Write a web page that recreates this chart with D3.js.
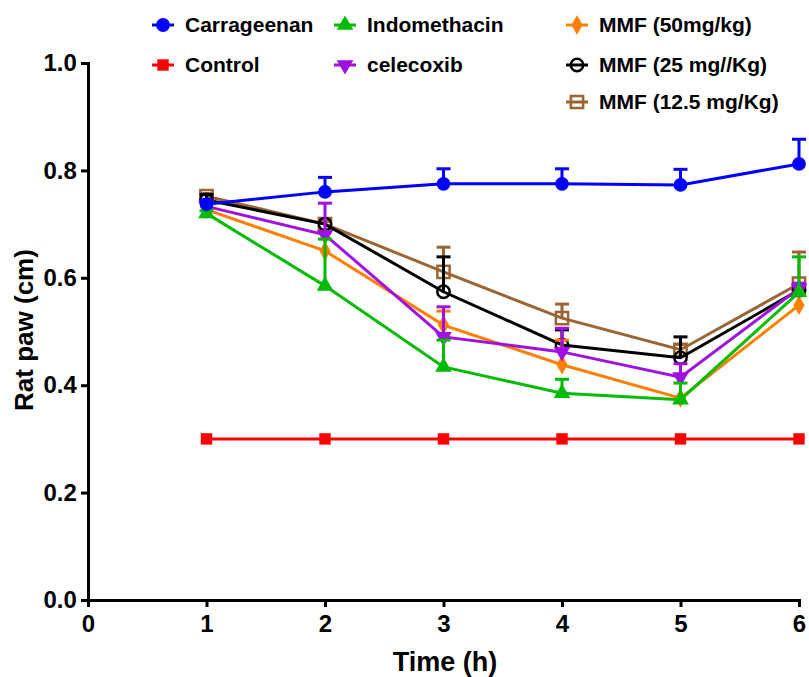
<!DOCTYPE html>
<html>
<head>
<meta charset="utf-8">
<script src="https://cdn.jsdelivr.net/npm/d3@7"></script>
<style>
    body { margin: 0; background: #fff; }
    svg text { font-family: "Liberation Sans", Arial, sans-serif; font-weight: bold; }
</style>
</head>
<body>
<div id="chart"></div>
<script>
// values (mean, upper SEM)
let hours = [1, 2, 3, 4, 5, 6];
let x_ticks = [0, 1, 2, 3, 4, 5, 6];
let y_ticks = [0.0, 0.2, 0.4, 0.6, 0.8, 1.0];

let carrageenan = [0.737, 0.760, 0.775, 0.775, 0.773, 0.812];
let carrageenan_err = [0.008, 0.027, 0.028, 0.028, 0.029, 0.046];
let control = [0.300, 0.300, 0.300, 0.300, 0.300, 0.300];
let control_err = [0, 0, 0, 0, 0, 0];
let indomethacin = [0.720, 0.585, 0.434, 0.385, 0.373, 0.573];
let indomethacin_err = [0.005, 0.087, 0.050, 0.026, 0.031, 0.066];
let celecoxib = [0.733, 0.680, 0.490, 0.462, 0.415, 0.580];
let celecoxib_err = [0.010, 0.059, 0.056, 0.044, 0.025, 0.010];
let mmf50 = [0.727, 0.650, 0.512, 0.438, 0.376, 0.549];
let mmf50_err = [0, 0, 0.026, 0.046, 0, 0];
let mmf25 = [0.745, 0.700, 0.574, 0.475, 0.451, 0.577];
let mmf25_err = [0.010, 0, 0.065, 0.028, 0.039, 0.010];
let mmf125 = [0.752, 0.700, 0.611, 0.525, 0.466, 0.589];
let mmf125_err = [0.005, 0.005, 0.046, 0.026, 0.010, 0.059];

let series = [
    {name: "Carrageenan", values: carrageenan, err: carrageenan_err, color: "#0000ff", shape: "circle", col: 0, row: 0},
    {name: "Control", values: control, err: control_err, color: "#ff0000", shape: "square", col: 0, row: 1},
    {name: "Indomethacin", values: indomethacin, err: indomethacin_err, color: "#00bb00", shape: "triangle", col: 1, row: 0},
    {name: "celecoxib", values: celecoxib, err: celecoxib_err, color: "#a010e0", shape: "triangle-down", col: 1, row: 1},
    {name: "MMF (50mg/kg)", values: mmf50, err: mmf50_err, color: "#ff8000", shape: "diamond", col: 2, row: 0},
    {name: "MMF (25 mg//Kg)", values: mmf25, err: mmf25_err, color: "#000000", shape: "open-circle", col: 2, row: 1},
    {name: "MMF (12.5 mg/Kg)", values: mmf125, err: mmf125_err, color: "#996633", shape: "open-square", col: 2, row: 2}
];

let width = 809, height = 677;
let margin = {left: 88, right: 10, top: 63, bottom: 77};

let svg = d3.select("#chart").append("svg")
    .attr("width", width)
    .attr("height", height);

let x = d3.scaleLinear().domain([0, 6]).range([margin.left, width - margin.right]);
let y = d3.scaleLinear().domain([0, 1]).range([height - margin.bottom, margin.top]);

function symbol_path(shape) {
    if (shape == "circle") return d3.symbol(d3.symbolCircle, 150)();
    if (shape == "square") return d3.symbol(d3.symbolSquare, 130)();
    if (shape == "triangle" || shape == "triangle-down") return d3.symbol(d3.symbolTriangle, 120)();
    if (shape == "diamond") return d3.symbol(d3.symbolDiamond, 110)();
    if (shape == "open-circle") return d3.symbol(d3.symbolCircle, 120)();
    return d3.symbol(d3.symbolSquare, 150)();
}

function draw_marker(g, s, cx, cy) {
    let open = s.shape.startsWith("open");
    g.append("path")
        .attr("d", symbol_path(s.shape))
        .attr("transform", "translate(" + cx + "," + cy + ")" + (s.shape == "triangle-down" ? " rotate(180)" : ""))
        .attr("fill", open ? "none" : s.color)
        .attr("stroke", s.color)
        .attr("stroke-width", open ? 2.5 : 0);
}

// axes
let x_axis = d3.axisBottom(x).tickValues(x_ticks).tickSize(7).tickFormat(d3.format("d"));
let y_axis = d3.axisLeft(y).tickValues(y_ticks).tickSize(7).tickFormat(d3.format(".1f"));

let gx = svg.append("g")
    .attr("transform", "translate(0," + y(0) + ")")
    .call(x_axis);
let gy = svg.append("g")
    .attr("transform", "translate(" + x(0) + ",0)")
    .call(y_axis);

[gx, gy].forEach(function(g) {
    g.select(".domain").attr("stroke", "#000").attr("stroke-width", 3);
    g.selectAll(".tick line").attr("stroke", "#000").attr("stroke-width", 3);
    g.selectAll(".tick text").attr("fill", "#000").style("font-size", "24px");
});
gx.selectAll(".tick text").attr("dy", "0.9em");
gy.selectAll(".tick text").attr("dx", "-0.05em");

svg.append("text")
    .attr("x", 445)
    .attr("y", 671)
    .attr("text-anchor", "middle")
    .style("font-size", "27px")
    .text("Time (h)");

svg.append("text")
    .attr("transform", "translate(33,330) rotate(-90)")
    .attr("text-anchor", "middle")
    .style("font-size", "26px")
    .text("Rat paw (cm)");

// series, last legend entry drawn first
let plot = svg.append("g");
let line = d3.line()
    .x(function(d) { return x(d[0]); })
    .y(function(d) { return y(d[1]); });

series.slice().reverse().forEach(function(s) {
    let g = plot.append("g");
    let pts = hours.map(function(h, i) { return [h, s.values[i], s.err[i]]; });
    g.append("path")
        .attr("d", line(pts))
        .attr("fill", "none")
        .attr("stroke", s.color)
        .attr("stroke-width", 3);
    pts.forEach(function(p) {
        if (p[2] > 0) {
            g.append("line")
                .attr("x1", x(p[0])).attr("x2", x(p[0]))
                .attr("y1", y(p[1])).attr("y2", y(p[1] + p[2]))
                .attr("stroke", s.color).attr("stroke-width", 3);
            g.append("line")
                .attr("x1", x(p[0]) - 7).attr("x2", x(p[0]) + 7)
                .attr("y1", y(p[1] + p[2])).attr("y2", y(p[1] + p[2]))
                .attr("stroke", s.color).attr("stroke-width", 3);
        }
        draw_marker(g, s, x(p[0]), y(p[1]));
    });
});

// legend
let col_x = [163, 345, 577];
let row_y = [25, 65, 102];
let legend = svg.append("g");
series.forEach(function(s) {
    let lx = col_x[s.col], ly = row_y[s.row];
    legend.append("line")
        .attr("x1", lx - 11).attr("x2", lx + 11)
        .attr("y1", ly).attr("y2", ly)
        .attr("stroke", s.color).attr("stroke-width", 3);
    draw_marker(legend, s, lx, ly);
    legend.append("text")
        .attr("x", lx + 22)
        .attr("y", ly)
        .attr("dy", "0.35em")
        .style("font-size", "21px")
        .text(s.name);
});
</script>
</body>
</html>
